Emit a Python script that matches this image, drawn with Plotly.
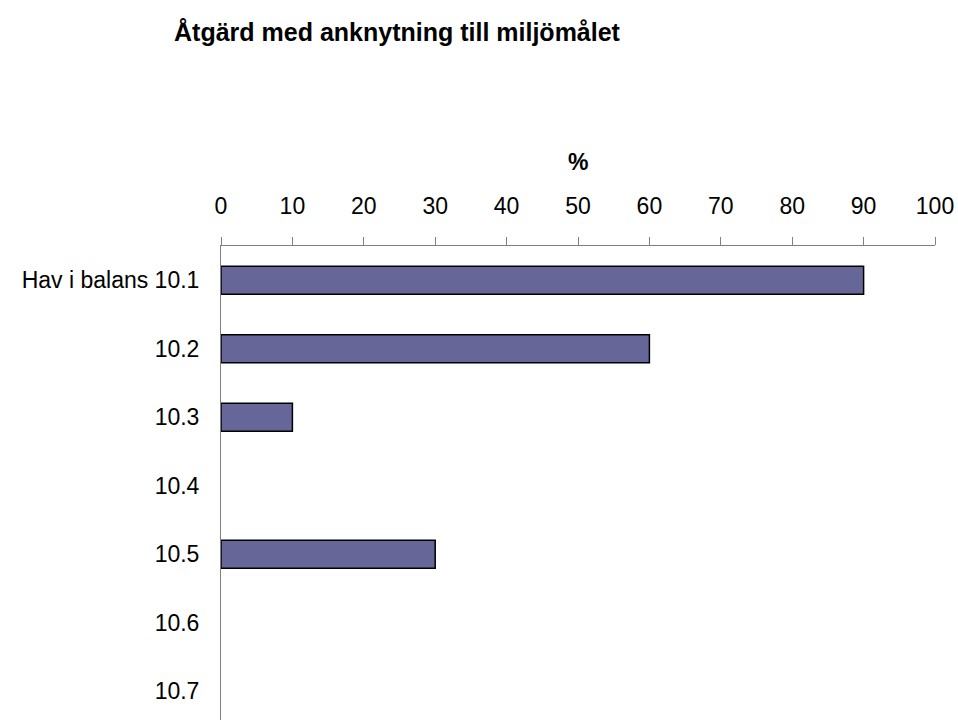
import plotly.graph_objects as go

categories = ["Hav i balans 10.1", "10.2", "10.3", "10.4", "10.5", "10.6", "10.7"]
values = [90, 60, 10, 0, 30, 0, 0]
x_ticks = [0, 10, 20, 30, 40, 50, 60, 70, 80, 90, 100]

title_text = "Åtgärd med anknytning till miljömålet"
axis_title = "%"

W, H = 958, 720
L, R, T, B = 221, 23, 246, 0

line_widths = [1.5 if v > 0 else 0 for v in values]

fig = go.Figure(
    go.Bar(
        x=values,
        y=categories,
        orientation="h",
        width=0.41,
        marker=dict(color="#666699", line=dict(color="#000000", width=line_widths)),
        hoverinfo="skip",
    )
)

fig.update_layout(
    width=W,
    height=H,
    margin=dict(l=L, r=R, t=T, b=B, pad=0),
    paper_bgcolor="white",
    plot_bgcolor="white",
    font=dict(family="Liberation Sans, Arial, sans-serif", color="#000000", size=23),
    showlegend=False,
    title=dict(
        text=title_text,
        x=397 / W,
        xanchor="center",
        y=1 - 32 / H,
        yanchor="middle",
        font=dict(size=25, family="Liberation Sans, Arial, sans-serif", weight="bold"),
    ),
    annotations=[
        dict(
            text=axis_title,
            x=0.5,
            xref="paper",
            y=1 + (T - 162) / (H - T - B),
            yref="paper",
            xanchor="center",
            yanchor="middle",
            showarrow=False,
            font=dict(size=23, weight="bold"),
        )
    ],
)

fig.update_xaxes(
    side="top",
    range=[0, 100],
    tickvals=x_ticks,
    ticktext=[str(v) for v in x_ticks],
    ticks="outside",
    ticklen=8,
    tickwidth=1,
    tickcolor="#808080",
    showline=True,
    linecolor="#808080",
    linewidth=1,
    showgrid=False,
    zeroline=False,
    ticklabelstandoff=14,
    ticklabeloverflow="allow",
    fixedrange=True,
)

fig.update_yaxes(
    type="category",
    categoryorder="array",
    categoryarray=categories,
    range=[6.42, -0.5],
    ticks="",
    showline=True,
    linecolor="#808080",
    linewidth=1,
    showgrid=False,
    zeroline=False,
    ticklabelstandoff=16,
    fixedrange=True,
)

fig.write_html(
    "out.html",
    config={"displayModeBar": False},
    post_script="document.body.style.margin='0';document.body.style.overflow='hidden';",
)
